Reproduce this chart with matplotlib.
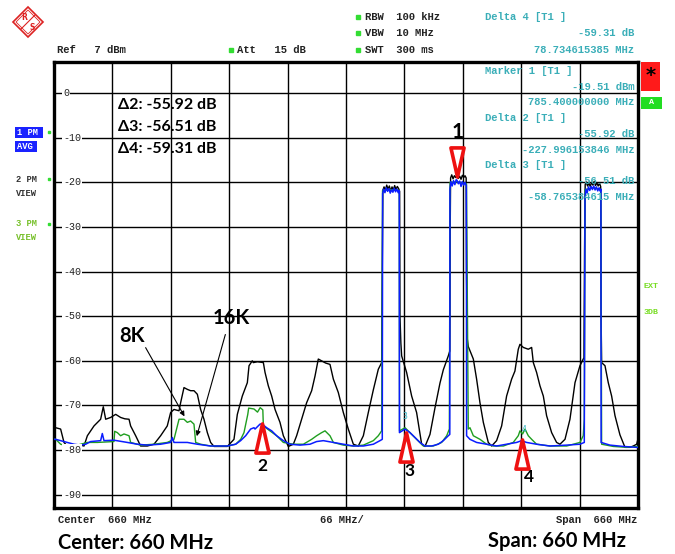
import matplotlib
matplotlib.use('Agg')
import matplotlib.pyplot as plt
import matplotlib.transforms as mtransforms
from matplotlib.patches import Rectangle, Polygon
from matplotlib.path import Path

# ---------------- data ----------------
black_freq = [330, 331.9, 337.5, 341.3, 345, 352, 358, 363.9, 367.7, 375.2, 382.7, 385.7, 388.4, 394, 399.7, 405.3, 410, 414.8,
              416.6, 422.3, 427.9, 435.5, 443, 450.5, 458, 461.8, 465.6, 471.3, 473.1, 476.9, 480.7, 484.4, 488.2, 492, 495.7,
              499.5, 503.3, 507, 510.8, 525.9, 533.4, 537.2, 542.8, 548.5, 550.4, 554.1, 555.3, 560, 566.6, 568.5, 572.2, 576,
              579.8, 585.4, 589.2, 594.8, 600.5, 604.2, 609.9, 615.5, 621.2, 625, 628.7, 632.5, 637, 641.9, 645.7, 651.3, 657,
              662.6, 668.3, 673.9, 679.6, 685.2, 690.9, 696.5, 700.3,
              701.0, 701.6, 703, 704.5, 706, 707.5, 709, 710.5, 712, 713.5, 715, 716.5, 718, 719.5, 720.6, 721.0, 722.0,
              722.9, 728.5, 734.2, 739.8, 745.5, 749.3, 754.9, 760.6, 766.2, 770, 775.6, 777.3,
              777.8, 778.2, 779.5, 781, 782.5, 784, 785.4, 787, 788.5, 790, 791.5, 793, 794.5, 795.8, 796.2, 797,
              798.2, 803.9, 807.6, 811.4, 815.2, 820.8, 824.6, 830.2, 835.9, 841.5, 847.2, 850.9, 854.7, 856.6, 860.4, 866,
              869.8, 871.7, 875.4, 879.2, 883, 886.7, 892.4, 898, 901.8, 907.5, 913.1, 918.8, 924.4, 928.9,
              929.6, 930.3, 931.5, 933, 934.5, 936, 937.5, 939, 940.5, 942, 943.5, 945, 946.5, 947.8, 948.3,
              948.9, 952.7, 956.4, 960.2, 964, 969.6, 975.3, 980.9, 984.7, 988.5, 990]
black_level = [-75.0, -75.0, -75.3, -78.3, -79.1, -79.2, -78.8, -79.1, -76.8, -74.6, -73.1, -70.3, -73.1, -72.7, -72.0, -72.7, -73.0, -73.1,
               -74.6, -76.8, -79.1, -79.1, -78.7, -76.8, -74.6, -71.6, -70.9, -71.2, -69.4, -66.0, -66.4, -66.7, -66.7, -67.5, -70.9,
               -73.1, -76.1, -78.3, -79.2, -79.2, -77.6, -72.0, -67.9, -64.9, -61.1, -60.0, -60.4, -60.2, -60.4, -62.6, -65.6, -67.9,
               -70.9, -73.8, -76.8, -79.2, -78.7, -76.8, -73.1, -69.4, -66.7, -63.4, -59.6, -60.0, -60.5, -60.8, -64.1, -67.1, -71.6,
               -75.3, -78.7, -79.1, -76.8, -71.6, -66.5, -61.9, -60.4,
               -40.0, -21.8, -21.0, -21.8, -20.6, -21.5, -20.8, -22.0, -21.0, -21.7, -20.7, -21.6, -20.9, -21.4, -22.0, -50.0, -56.0,
               -58.9, -62.6, -67.9, -71.6, -78.7, -79.2, -76.5, -70.5, -65.0, -62.0, -58.9, -57.8,
               -30.0, -19.0, -18.3, -19.2, -18.5, -18.9, -18.4, -19.1, -18.6, -19.3, -18.4, -18.9, -18.5, -19.0, -40.0, -55.0,
               -56.8, -59.6, -64.1, -69.4, -73.8, -78.3, -79.1, -77.9, -74.6, -67.9, -64.1, -62.3, -57.4, -56.3, -57.0, -57.4,
               -57.0, -60.4, -62.6, -65.6, -67.9, -72.3, -76.1, -78.3, -78.7, -77.6, -73.1, -64.9, -61.1, -59.3,
               -35.0, -20.5, -19.9, -20.8, -20.2, -20.9, -20.0, -20.6, -19.8, -20.7, -20.1, -20.8, -20.2, -20.9, -50.0,
               -60.4, -61.1, -64.9, -67.9, -72.3, -76.6, -79.4, -79.4, -79.1, -78.7, -77.5]

blue_freq = [330, 331.9, 337.5, 345, 352.6, 360.1, 365.8, 371.4, 382.7, 384.6, 386.5, 397.8, 412.9, 424.2, 435.5, 450.5, 461.8,
             463.7, 465.6, 480.7, 492, 507, 525.9, 535.3, 540.9, 546.6, 552.2, 556, 557.2, 562.8, 564.7, 570.3, 576, 581.6,
             589.2, 596.7, 608, 619.3, 626.8, 634.4, 645.7, 657, 668.3, 679.6, 690.9, 698.4, 701.0,
             701.4, 702.5, 704, 705.5, 707, 708.5, 710, 711.5, 713, 714.5, 716, 717.5, 719, 720.2,
             720.4, 726.7, 732.3, 738, 743.6, 749.3, 756.8, 764.3, 770, 775.6, 777.3,
             777.5, 778.5, 780, 781.5, 783, 784.5, 785.4, 787, 788.5, 790, 791.5, 793, 794.5, 796,
             796.3, 800.1, 807.6, 818.9, 830.2, 841.5, 852.8, 858.5, 864.1, 875.4, 890.5, 909.4, 924.4, 929.3,
             930.1, 931, 932.5, 934, 935.5, 937, 938.5, 940, 941.5, 943, 944.5, 946, 947.5, 948.1,
             948.3, 958.3, 973.4, 988.5, 990]
blue_level = [-77.6, -77.6, -77.9, -78.3, -78.7, -78.9, -78.7, -78.1, -77.9, -76.3, -77.9, -77.8, -78.3, -78.7, -78.9, -78.7, -78.3,
              -77.2, -78.3, -78.3, -78.7, -79.1, -79.1, -78.7, -77.9, -76.8, -75.3, -75.0, -75.3, -74.2, -74.1, -75.0, -75.7, -76.8,
              -77.9, -78.7, -78.9, -78.7, -78.1, -77.9, -78.3, -78.7, -79.1, -79.1, -78.7, -77.9, -77.6,
              -22.5, -21.5, -22.3, -21.2, -22.0, -21.4, -22.4, -21.6, -22.2, -21.3, -22.1, -21.5, -22.3, -21.8,
              -76.1, -75.3, -76.1, -77.2, -78.3, -79.1, -79.1, -78.7, -77.9, -76.8, -76.5,
              -21.5, -19.8, -20.8, -19.6, -20.5, -19.4, -19.5, -20.3, -19.7, -20.9, -19.8, -20.6, -20.0, -20.7,
              -76.8, -77.6, -78.3, -78.7, -79.1, -78.7, -78.3, -77.9, -78.3, -78.7, -79.1, -78.9, -78.7, -78.3,
              -23.4, -21.5, -22.4, -21.0, -21.8, -20.9, -21.6, -20.8, -21.7, -21.0, -21.9, -21.2, -22.0, -21.5,
              -78.3, -78.9, -79.2, -79.4, -79.4]

green_freq = [330, 331.9, 337.5, 345, 356.4, 367.7, 379, 397.8, 398.6, 401.6, 405.3, 409.1, 414.8, 416.6, 427.9, 443, 458,
              465.6, 471.3, 476.9, 480.7, 484.4, 488.2, 490.1, 495.7, 507, 525.9, 535.3, 541, 544.7, 549, 550, 556, 560,
              563, 566, 566.6, 574, 581.6, 589.2, 600.5, 611.8, 621.2, 626.8, 632.5, 636.3, 641.9, 645.7, 657, 668.3,
              679.6, 690.9, 696.5, 700.3, 701.3, 710, 720.2, 720.5, 726.7, 732.3, 739.8, 747.4, 758.7, 768.1, 773.8,
              776.8, 777.6, 786, 796.2, 798.2, 800.1, 803.9, 811.4, 818.9, 826.5, 837.8, 849, 854.7, 856.6, 859.6,
              862.3, 866, 869.8, 875.4, 890.5, 909.4, 924.4, 928.1, 929.3, 930.2, 940, 948.0, 948.9, 962.1, 977.2,
              988.5, 990]
green_level = [-77.6, -77.6, -78.7, -79.1, -78.9, -78.3, -78.3, -78.1, -75.8, -76.1, -76.8, -76.4, -76.8, -78.3, -78.9, -78.7, -78.3,
               -77.6, -73.1, -73.1, -73.8, -73.5, -74.2, -78.3, -78.7, -79.1, -79.1, -78.7, -77.6, -76.1, -72.0, -70.6, -70.8, -71.5,
               -70.5, -71.0, -74.6, -75.7, -76.8, -78.3, -78.7, -78.7, -77.6, -76.8, -76.1, -75.7, -76.8, -78.3, -78.9, -79.1,
               -78.9, -77.9, -76.8, -75.7, -21.8, -21.6, -21.8, -75.7, -75.0, -76.1, -77.6, -79.1, -79.1, -78.3, -76.8,
               -75.3, -20.0, -19.9, -20.3, -75.3, -75.0, -76.8, -77.6, -78.7, -79.1, -79.1, -78.3, -76.8, -75.7, -76.4,
               -75.3, -76.8, -77.6, -78.7, -79.1, -79.1, -78.3, -76.8, -73.1, -21.6, -21.2, -21.6, -78.7, -79.2, -79.4,
               -79.2, -79.2]

marker_ids = ['1', '2', '3', '4']
marker_freq = [786.0, 565.0, 727.5, 859.0]
marker_level = [-18.6, -74.0, -76.0, -77.6]

delta_labels = ['\u03942: -55.92 dB', '\u03943: -56.51 dB', '\u03944: -59.31 dB']
ytick_values = [0, -10, -20, -30, -40, -50, -60, -70, -80, -90]
center_mhz = 660
span_mhz = 660

# ---------------- figure ----------------
W, H = 675, 554
fig = plt.figure(figsize=(W / 100, H / 100), dpi=100, facecolor='white')

def fx(px):
    return px / W

def fy(py):
    return 1 - py / H

ax = fig.add_axes([fx(54), fy(508), (638 - 54) / W, (508 - 62) / H])
f0 = center_mhz - span_mhz / 2
f1 = center_mhz + span_mhz / 2
ax.set_xlim(f0, f1)
ax.set_ylim(-93, 7)
ax.set_xticks([])
ax.set_yticks([])
for s in ax.spines.values():
    s.set_linewidth(2.4)
    s.set_color('black')

for k in range(1, 10):
    ax.axvline(f0 + k * span_mhz / 10, color='black', lw=1.0, zorder=1)
for v in ytick_values:
    ax.axhline(v, color='black', lw=1.0, zorder=1)

ax.plot(black_freq, black_level, color='black', lw=1.0, zorder=3)
ax.plot(green_freq, green_level, color='#1f9e1f', lw=1.0, zorder=4)
ax.plot(blue_freq, blue_level, color='#0a1cff', lw=1.1, zorder=5)

# y tick labels inside the frame, on the grid lines
lab_tr = mtransforms.blended_transform_factory(ax.transAxes, ax.transData)
for v in ytick_values:
    ax.text(9 / 584, v, str(v), transform=lab_tr, fontsize=7.2, family='Liberation Mono',
            color='#222222', ha='left', va='center', zorder=6,
            bbox=dict(boxstyle='square,pad=0.08', fc='white', ec='none'))

# delta annotations
for i, t in enumerate(delta_labels):
    ax.text(f0 + (118 - 54) * span_mhz / 584, -(106 + 22 * i - 94) / 4.46, t, fontsize=11.5,
            family='Lato', weight='bold', color='black', ha='left', va='center', zorder=7)

# 8K / 16K annotations
ax.annotate('', xy=(479.0, -73.0), xytext=(432.0, -56.5),
            arrowprops=dict(arrowstyle='-|>', color='black', lw=0.8, mutation_scale=7), zorder=7)
ax.annotate('', xy=(490.5, -77.5), xytext=(524.5, -53.5),
            arrowprops=dict(arrowstyle='-|>', color='black', lw=0.8, mutation_scale=7), zorder=7)
ax.text(418.0, -54.5, '8K', fontsize=14.5, family='Lato', weight='bold', ha='center', va='center', zorder=7)
ax.text(530.0, -50.5, '16K', fontsize=14.5, family='Lato', weight='bold', ha='center', va='center', zorder=7)

# markers
ms = 21
up_tri = Path([(0, 1), (-0.45, -1), (0.45, -1), (0, 1)], [Path.MOVETO, Path.LINETO, Path.LINETO, Path.CLOSEPOLY])
dn_tri = Path([(0, -1), (-0.45, 1), (0.45, 1), (0, -1)], [Path.MOVETO, Path.LINETO, Path.LINETO, Path.CLOSEPOLY])
label_dx = [0, 0, 3, 5]
label_dy = [11, -31, -28, -27]
for i, (mid, f, l) in enumerate(zip(marker_ids, marker_freq, marker_level)):
    if mid == '1':
        tr = mtransforms.offset_copy(ax.transData, fig=fig, y=ms / 2, units='points')
        mk = dn_tri
    else:
        tr = mtransforms.offset_copy(ax.transData, fig=fig, y=-ms / 2, units='points')
        mk = up_tri
    ax.plot([f], [l], marker=mk, ms=ms, mfc='white', mec='#ee1111', mew=2.6, transform=tr,
            zorder=8, linestyle='none', clip_on=False)
    ltr = mtransforms.offset_copy(ax.transData, fig=fig, x=label_dx[i],
                                  y=(label_dy[i] + (ms if mid == '1' else 0)), units='points')
    ax.text(f, l, mid, transform=ltr, fontsize=15 if mid == '1' else 12.5, family='Lato',
            weight='bold', ha='center', va='center', zorder=8, clip_on=False)

# tiny cyan marker ids on trace
ax.text(727.0, -72.5, '3', fontsize=5.5, color='#30b0c0', ha='center', va='center', zorder=8)
ax.text(861.5, -75.5, '4', fontsize=5.5, color='#30b0c0', ha='center', va='center', zorder=8)

# ---------------- overlay texts ----------------
ov = fig.add_axes([0, 0, 1, 1], zorder=10)
ov.set_xlim(0, W)
ov.set_ylim(H, 0)
ov.axis('off')
ov.patch.set_alpha(0)

mono = dict(family='Liberation Mono', weight='bold', fontsize=7.6)
cyan = '#3aaeb8'

ov.text(57, 50, 'Ref   7 dBm', color='#222222', va='center', **mono)
ov.text(237, 50, 'Att   15 dB', color='#222222', va='center', **mono)
ov.plot([231], [50], 's', ms=2.2, color='#33dd33')
for y, t in [(17, 'RBW  100 kHz'), (33, 'VBW  10 MHz'), (50, 'SWT  300 ms')]:
    ov.text(365, y, t, color='#222222', va='center', **mono)
    ov.plot([358], [y], 's', ms=2.2, color='#33dd33')

right_left = [(17, 'Delta 4 [T1 ]'), (71, 'Marker 1 [T1 ]'), (118, 'Delta 2 [T1 ]'), (165, 'Delta 3 [T1 ]')]
right_right = [(33, '-59.31 dB'), (50, '78.734615385 MHz'), (87, '-19.51 dBm'), (102, '785.400000000 MHz'),
               (134, '-55.92 dB'), (150, '-227.996153846 MHz'), (181, '-56.51 dB'), (197, '-58.765384615 MHz')]
for y, t in right_left:
    ov.text(485, y, t, color=cyan, va='center', **mono)
for y, t in right_right:
    ov.text(634, y, t, color=cyan, va='center', ha='right', **mono)

# left trace info
ov.add_patch(Rectangle((15, 127), 28, 11, fc='#1a22ff', ec='none'))
ov.text(17, 132.5, '1 PM', color='white', va='center', family='Liberation Mono', weight='bold', fontsize=6.3)
ov.add_patch(Rectangle((15, 141), 22, 11, fc='#1a22ff', ec='none'))
ov.text(17, 146.5, 'AVG', color='white', va='center', family='Liberation Mono', weight='bold', fontsize=6.3)
ov.text(16, 180, '2 PM', color='#333333', va='center', family='Liberation Mono', weight='bold', fontsize=6.3)
ov.text(16, 193, 'VIEW', color='#333333', va='center', family='Liberation Mono', weight='bold', fontsize=6.3)
ov.text(16, 224, '3 PM', color='#77c02a', va='center', family='Liberation Mono', weight='bold', fontsize=6.3)
ov.text(16, 237, 'VIEW', color='#77c02a', va='center', family='Liberation Mono', weight='bold', fontsize=6.3)
for y in (132, 179, 224):
    ov.plot([49], [y], 's', ms=1.8, color='#33dd33')

# right side status boxes
ov.add_patch(Rectangle((641, 62), 19, 29, fc='#ff1a1a', ec='none'))
ov.text(650.5, 76, '*', color='black', ha='center', va='center', fontsize=14, weight='bold')
ov.add_patch(Rectangle((641, 97), 21, 12, fc='#22dd22', ec='none'))
ov.text(651.5, 103, 'A', color='white', ha='center', va='center', family='Liberation Mono', weight='bold', fontsize=6)
ov.text(651, 287, 'EXT', color='#77dd22', ha='center', va='center', family='Liberation Mono', weight='bold', fontsize=6)
ov.text(651, 313, '3DB', color='#77dd22', ha='center', va='center', family='Liberation Mono', weight='bold', fontsize=6)

# logo
cx, cy, r = 28, 22, 15
ov.add_patch(Polygon([(cx, cy - r), (cx + r, cy), (cx, cy + r), (cx - r, cy)], closed=True, fc='none',
                     ec='#dd2222', lw=1.2))
ov.add_patch(Polygon([(cx, cy - r + 3), (cx + r - 3, cy), (cx, cy + r - 3), (cx - r + 3, cy)], closed=True,
                     fc='none', ec='#dd2222', lw=0.6))
ov.plot([cx - 7, cx + 7], [cy + 7, cy - 7], color='#dd2222', lw=0.8)
ov.text(cx - 4, cy - 5, 'R', color='#dd2222', ha='center', va='center', fontsize=5.5, weight='bold')
ov.text(cx + 4, cy + 5, 'S', color='#dd2222', ha='center', va='center', fontsize=5.5, weight='bold')

# bottom texts
ov.text(58, 520, 'Center  %d MHz' % center_mhz, color='#222222', va='center', **mono)
ov.text(320, 520, '%d MHz/' % (span_mhz // 10), color='#222222', va='center', **mono)
ov.text(637, 520, 'Span  %d MHz' % span_mhz, color='#222222', va='center', ha='right', **mono)
ov.text(58, 543, 'Center: %d MHz' % center_mhz, va='center', ha='left', family='Lato', weight='bold', fontsize=14.5)
ov.text(626, 541, 'Span: %d MHz' % span_mhz, va='center', ha='right', family='Lato', weight='bold', fontsize=14.5)

fig.savefig('out.png', dpi=100, facecolor='white')
